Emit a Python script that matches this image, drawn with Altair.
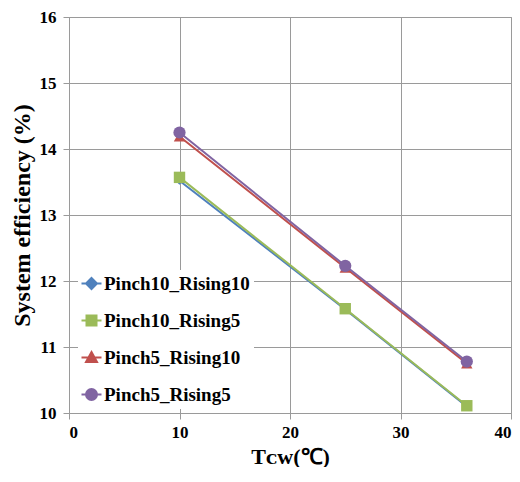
import altair as alt
import pandas as pd

temps = [10, 25, 36]
series_names = ["Pinch10_Rising10", "Pinch10_Rising5", "Pinch5_Rising10", "Pinch5_Rising5"]
p10_r10 = [13.52, 11.57, 10.10]
p10_r5 = [13.57, 11.58, 10.11]
p5_r10 = [14.19, 12.20, 10.75]
p5_r5 = [14.25, 12.23, 10.78]
colors = ["#4F81BD", "#9BBB59", "#C0504D", "#8064A2"]
shapes = ["diamond", "square", "triangle-up", "circle"]
marker_sizes = [70, 130, 130, 150]
legend_paths = [
    "M-2,0H2M0,-1.1L1.1,0L0,1.1L-1.1,0Z",
    "M-2,0H2M-1,-1H1V1H-1Z",
    "M-2,0H2M0,-1.1L1.1,0.9L-1.1,0.9Z",
    "M-2,0H2M1.1,0A1.1,1.1,0,1,1,-1.1,0A1.1,1.1,0,1,1,1.1,0Z",
]

rows = []
for name, vals in zip(series_names, [p10_r10, p10_r5, p5_r10, p5_r5]):
    for t, v in zip(temps, vals):
        rows.append({"series": name, "t": t, "eff": v})
df = pd.DataFrame(rows)

font = "'Liberation Serif', 'Times New Roman', serif"

x = alt.X("t:Q", scale=alt.Scale(domain=[0, 40], padding=0, nice=False),
          axis=alt.Axis(values=[0, 10, 20, 30, 40], title="Tᴄᴡ(℃)"))
y = alt.Y("eff:Q", scale=alt.Scale(domain=[10, 16], padding=0, nice=False),
          axis=alt.Axis(values=[10, 11, 12, 13, 14, 15, 16], title="System efficiency (%)"))

layers = []
for name, c in zip(series_names, colors):
    layers.append(
        alt.Chart(df).transform_filter(alt.datum.series == name)
        .mark_line(strokeWidth=2, color=c).encode(x=x, y=y, order="t:Q")
    )
for name, c, s, sz in zip(series_names, colors, shapes, marker_sizes):
    layers.append(
        alt.Chart(df).transform_filter(alt.datum.series == name).mark_point(
            filled=True, opacity=1, shape=s, size=sz, color=c
        ).encode(x=x, y=y)
    )

leg = alt.Legend(title=None, orient="none", legendX=9, legendY=253,
                 labelFont=font, labelFontSize=19, labelFontWeight="bold",
                 labelColor="black", symbolSize=100, rowPadding=17,
                 fillColor="white", padding=4, labelOffset=3,
                 symbolStrokeWidth=2, labelLimit=300)

legend_layer = alt.Chart(df).transform_filter("datum.t < 0").mark_point(
    filled=True, opacity=1, strokeWidth=2
).encode(
    x=x, y=y,
    color=alt.Color("series:N", scale=alt.Scale(domain=series_names, range=colors), legend=leg),
    stroke=alt.Stroke("series:N", scale=alt.Scale(domain=series_names, range=colors), legend=leg),
    shape=alt.Shape("series:N", scale=alt.Scale(domain=series_names, range=legend_paths), legend=leg),
)
layers.append(legend_layer)

chart = alt.layer(*layers).properties(
    width=504, height=459,
    autosize=alt.AutoSizeParams(type="fit", contains="padding"),
    padding={"left": 2, "top": 0, "right": 0, "bottom": 0},
).configure_axis(
    labelFont=font, labelFontSize=17, labelFontWeight="bold", labelColor="black",
    titleFont=font, titleFontSize=24, titleFontWeight="bold", titleColor="black",
    gridColor="#9a9a9a", gridWidth=1, domainColor="#9a9a9a", tickColor="#9a9a9a",
    tickSize=6,
).configure_axisX(labelPadding=5, titlePadding=6, titleFontSize=22)\
 .configure_axisY(labelPadding=7, titlePadding=5)\
 .configure_view(stroke="#9a9a9a")

chart.save("out.html", embed_options={"renderer": "svg", "actions": False})
